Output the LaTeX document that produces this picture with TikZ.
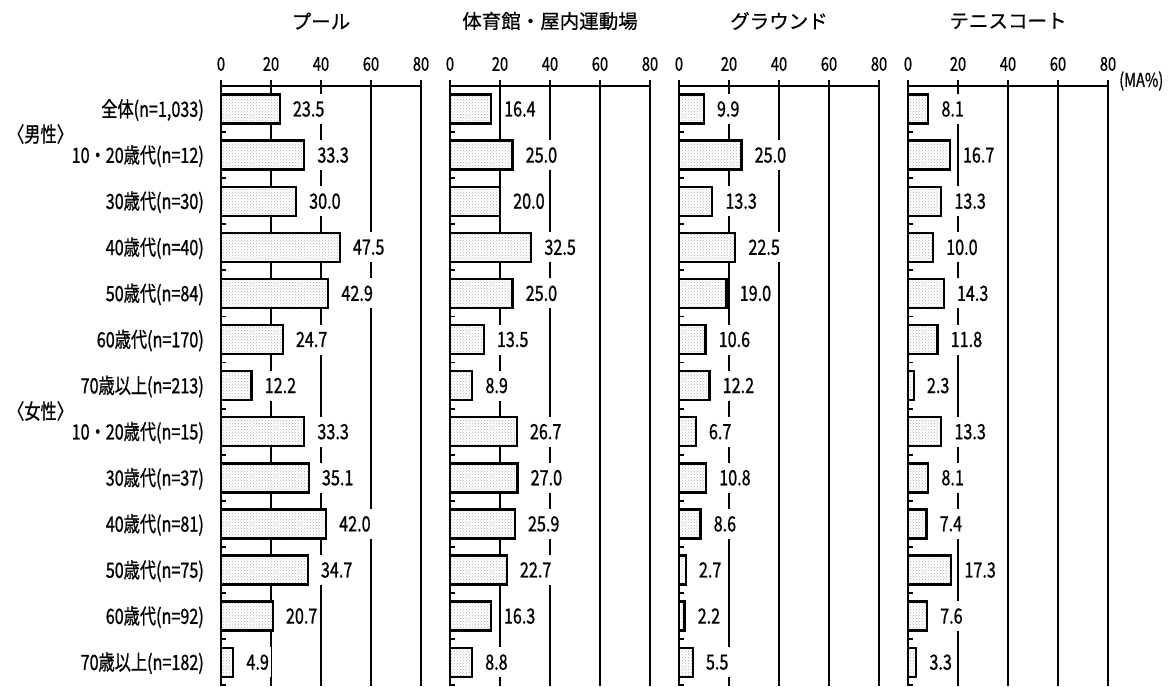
\documentclass[tikz,border=0pt]{standalone}
\usepackage{fontspec}
\setmainfont[FakeBold=0.6,AutoFakeBold=0.6]{Noto Sans CJK JP}
\newfontfamily\narrowfont[FakeStretch=0.77,FakeBold=0.8]{Noto Sans CJK JP}
\usetikzlibrary{patterns}
\tikzset{
  gridline/.style={line width=1.8pt},
  barbox/.style={draw=black, line width=2.4pt, preaction={fill=white}, pattern=crosshatch dots, pattern color=gray!60},
  vallab/.style={anchor=west, xshift=11pt, fill=white, inner sep=2pt, minimum height=30pt, font={\narrowfont\fontsize{21}{22}\selectfont}},
  rowlab/.style={anchor=east, inner sep=0pt, font={\narrowfont\fontsize{21}{22}\selectfont}},
  ticklab/.style={inner sep=0pt, font={\narrowfont\fontsize{19}{20}\selectfont}},
  paneltitle/.style={inner sep=0pt, font={\bfseries\fontsize{19.5}{20}\selectfont}}
}

\begin{document}
\begin{tikzpicture}[x=1pt,y=-1pt]
\useasboundingbox[fill=white] (0,0) rectangle (1171,686);

\foreach \p/\ttl/\vals in {
  0/プール/{23.5,33.3,30.0,47.5,42.9,24.7,12.2,33.3,35.1,42.0,34.7,20.7,4.9},
  1/体育館・屋内運動場/{16.4,25.0,20.0,32.5,25.0,13.5,8.9,26.7,27.0,25.9,22.7,16.3,8.8},
  2/グラウンド/{9.9,25.0,13.3,22.5,19.0,10.6,12.2,6.7,10.8,8.6,2.7,2.2,5.5},
  3/テニスコート/{8.1,16.7,13.3,10.0,14.3,11.8,2.3,13.3,8.1,7.4,17.3,7.6,3.3}}
{
\pgfmathsetmacro\xo{221+229*\p}
\node[paneltitle] (t\p) at ({\xo+100},21) {\ttl};
\foreach \t in {0,20,...,80}
{
\draw[gridline] ({\xo+2.5*\t},80) -- ({\xo+2.5*\t},686);
\node[ticklab] (k\p-\t) at ({\xo+2.5*\t},64) {\t};
}
\draw[gridline] (\xo,86) -- ({\xo+200},86);
\foreach \v [count=\i] in \vals
{
\pgfmathsetmacro\yr{109+46.1*(\i-1)}
\draw[gridline] (\xo,{\yr+23}) -- ({\xo+5},{\yr+23});
\draw[barbox] (\xo,{\yr-14.5}) rectangle ({\xo+2.5*\v},{\yr+14.5});
\node[vallab] (v\p-\i) at ({\xo+2.5*\v},\yr) {\v};
}
}

\foreach \r [count=\i] in {{全体(n=1,033)},10・20歳代(n=12),30歳代(n=30),40歳代(n=40),50歳代(n=84),60歳代(n=170),70歳以上(n=213),10・20歳代(n=15),30歳代(n=37),40歳代(n=81),50歳代(n=75),60歳代(n=92),70歳以上(n=182)}
\node[rowlab] (r\i) at (204,{110+46.1*(\i-1)}) {\r};

\node[rowlab, anchor=west] (men) at (8,134) {〈男性〉};
\node[rowlab, anchor=west] (women) at (8,411) {〈女性〉};
\node[ticklab, anchor=west] (ma) at (1119,81) {(MA\%)};
\end{tikzpicture}
\end{document}
